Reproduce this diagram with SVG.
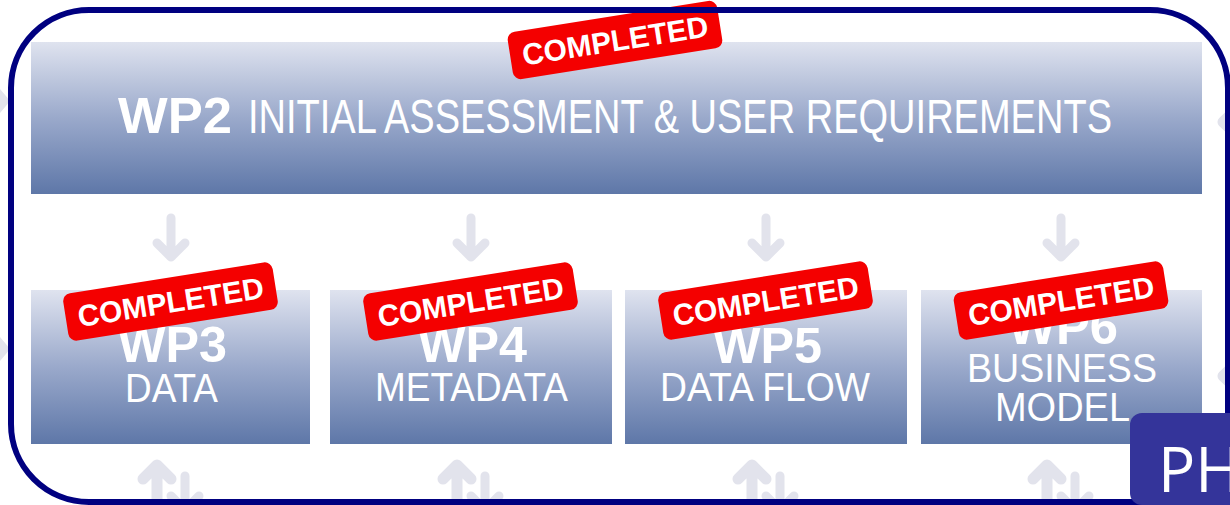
<svg xmlns="http://www.w3.org/2000/svg" width="1230" height="505" viewBox="0 0 1230 505">
<defs>
<linearGradient id="boxGrad" x1="0" y1="0" x2="0" y2="1">
<stop offset="0" stop-color="#dfe3ef"/>
<stop offset="0.5" stop-color="#9aa9cb"/>
<stop offset="1" stop-color="#5e77a8"/>
</linearGradient>
<style>
.box{fill:url(#boxGrad);}
.bold{font-family:"Liberation Sans",Arial,sans-serif;font-weight:bold;fill:#fff;}
.reg{font-family:"Liberation Sans",Arial,sans-serif;fill:#fff;}
.badge rect{fill:#f40000;}
.badge text{font-family:"Liberation Sans",Arial,sans-serif;font-weight:bold;font-size:30px;fill:#fff;text-anchor:middle;}
.arr{fill:none;stroke:#e2e3ec;stroke-width:9;stroke-linecap:round;stroke-linejoin:round;}
.arrb{fill:none;stroke:#e2e3ec;stroke-width:11;stroke-linecap:round;stroke-linejoin:round;}
.frame{fill:none;stroke:#000080;stroke-width:6;}
</style>
</defs>
<rect width="1230" height="505" fill="#fff"/>
<g id="connectors">
<path class="arr" d="M171,218 V257 M157,243 L171,257 L185,243"/>
<path class="arr" d="M471,218 V257 M457,243 L471,257 L485,243"/>
<path class="arr" d="M766,218 V257 M752,243 L766,257 L780,243"/>
<path class="arr" d="M1061,218 V257 M1047,243 L1061,257 L1075,243"/>
<path class="arrb" d="M157,470 V510 M143,479 L157,465 L171,479"/>
<path class="arr" d="M185,476 V510 M171,496 L185,510 L199,496"/>
<path class="arrb" d="M457,470 V510 M443,479 L457,465 L471,479"/>
<path class="arr" d="M485,476 V510 M471,496 L485,510 L499,496"/>
<path class="arrb" d="M752,470 V510 M738,479 L752,465 L766,479"/>
<path class="arr" d="M780,476 V510 M766,496 L780,510 L794,496"/>
<path class="arrb" d="M1047,470 V510 M1033,479 L1047,465 L1061,479"/>
<path class="arr" d="M1075,476 V510 M1061,496 L1075,510 L1089,496"/>
<path class="arrb" d="M-8,88 L3,101 L-8,114"/>
<path class="arrb" d="M-8,336 L3,349 L-8,362"/>
<path class="arrb" d="M1240,106 L1223,122 L1240,138"/>
<path class="arrb" d="M1240,360 L1223,376 L1240,392"/>
</g>
<g id="wp2">
<rect class="box" x="31" y="42" width="1171" height="152"/>
<text class="bold" x="118" y="133" font-size="50" textLength="114" lengthAdjust="spacingAndGlyphs">WP2</text>
<text class="reg" x="248" y="133" font-size="48" textLength="864" lengthAdjust="spacingAndGlyphs">INITIAL ASSESSMENT &amp; USER REQUIREMENTS</text>
</g>
<g id="wp3">
<rect class="box" x="31" y="290" width="279" height="154"/>
<text class="bold" x="118" y="362" font-size="50" textLength="109" lengthAdjust="spacingAndGlyphs">WP3</text>
<text class="reg" x="125" y="402" font-size="40" textLength="93" lengthAdjust="spacingAndGlyphs">DATA</text>
</g>
<g id="wp4">
<rect class="box" x="330" y="290" width="282" height="154"/>
<text class="bold" x="418" y="362" font-size="50" textLength="109" lengthAdjust="spacingAndGlyphs">WP4</text>
<text class="reg" x="375" y="401" font-size="40" textLength="193" lengthAdjust="spacingAndGlyphs">METADATA</text>
</g>
<g id="wp5">
<rect class="box" x="625" y="290" width="282" height="154"/>
<text class="bold" x="713" y="363" font-size="50" textLength="109" lengthAdjust="spacingAndGlyphs">WP5</text>
<text class="reg" x="660" y="401" font-size="40" textLength="210" lengthAdjust="spacingAndGlyphs">DATA FLOW</text>
</g>
<g id="wp6">
<rect class="box" x="921" y="290" width="281" height="154"/>
<text class="bold" x="1008" y="344" font-size="50" textLength="110" lengthAdjust="spacingAndGlyphs">WP6</text>
<text class="reg" x="967" y="382" font-size="40" textLength="190" lengthAdjust="spacingAndGlyphs">BUSINESS</text>
<text class="reg" x="995" y="421" font-size="40" textLength="135" lengthAdjust="spacingAndGlyphs">MODEL</text>
</g>
<g id="badges">
<g class="badge" transform="translate(615,40) rotate(-9)"><rect x="-106" y="-24" width="212" height="48" rx="8"/><text x="0" y="11" textLength="188" lengthAdjust="spacingAndGlyphs">COMPLETED</text></g>
<g class="badge" transform="translate(170.5,301.5) rotate(-9)"><rect x="-106" y="-24" width="212" height="48" rx="8"/><text x="0" y="11" textLength="188" lengthAdjust="spacingAndGlyphs">COMPLETED</text></g>
<g class="badge" transform="translate(470.5,301.5) rotate(-9)"><rect x="-106" y="-24" width="212" height="48" rx="8"/><text x="0" y="11" textLength="188" lengthAdjust="spacingAndGlyphs">COMPLETED</text></g>
<g class="badge" transform="translate(765.5,300.5) rotate(-9)"><rect x="-106" y="-24" width="212" height="48" rx="8"/><text x="0" y="11" textLength="188" lengthAdjust="spacingAndGlyphs">COMPLETED</text></g>
<g class="badge" transform="translate(1061,300.5) rotate(-9)"><rect x="-106" y="-24" width="212" height="48" rx="8"/><text x="0" y="11" textLength="188" lengthAdjust="spacingAndGlyphs">COMPLETED</text></g>
</g>
<rect class="frame" x="11" y="10" width="1217" height="492" rx="78"/>
<g id="ph">
<rect x="1130" y="413" width="130" height="92" rx="12" fill="#34349a"/>
<text x="1158" y="492" font-family="'Open Sans','Noto Sans',sans-serif" font-size="62" fill="#fff">PH</text>
</g>
</svg>
